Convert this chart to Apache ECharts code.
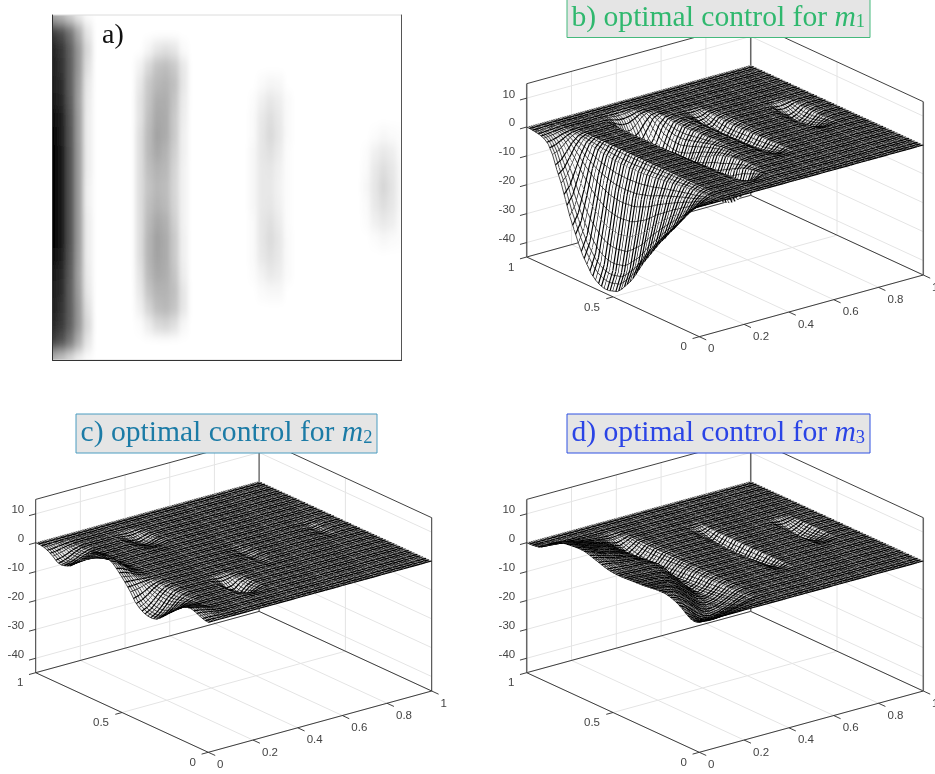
<!DOCTYPE html>
<html><head><meta charset="utf-8">
<script src="https://cdn.jsdelivr.net/npm/echarts@6/dist/echarts.min.js"></script>
<style>
html,body{margin:0;padding:0;background:#fff;}
#heat{position:absolute;left:53px;top:15px;width:348px;height:345px;overflow:hidden;}
#heatChart{position:absolute;left:-60px;top:-20px;width:428px;height:385px;filter:url(#soft);}
#main{position:absolute;left:0;top:0;width:935px;height:774px;}
</style></head><body>
<svg width="0" height="0" style="position:absolute"><filter id="soft" x="0" y="0" width="100%" height="100%"><feGaussianBlur stdDeviation="2.8 6"/></filter></svg>
<div id="heat"><div id="heatChart"></div></div>
<div id="main"></div>
<script>
const xTicks=[0,0.2,0.4,0.6,0.8,1];
const yTicks=[0,0.5,1];
const zTicks=[-40,-30,-20,-10,0,10];
const titleB=['b) optimal control for ','m','1'];
const titleC=['c) optimal control for ','m','2'];
const titleD=['d) optimal control for ','m','3'];

// Panel a: darkness 0-100. Rows y=1..0 in steps of .05, columns x in steps of .025.
const heatBand1=[[34,28,18,8,1],[78,70,54,32,10],[86,79,62,40,15],[88,81,63,40,12],[90,83,63,38,9],[93,85,64,37,8],[97,88,66,38,7],[99,90,67,38,7],[100,91,68,39,7],[100,91,68,39,7],[100,91,68,39,6],[100,91,68,39,6],[100,91,68,39,7],[100,91,68,39,7],[97,88,66,38,7],[92,85,64,37,8],[90,83,63,38,9],[88,81,63,40,12],[85,78,62,40,15],[76,68,52,31,10],[30,24,15,6,1]];
const heatBand2=[[0,4,10,12,10,2],[5,15,24,26,21,9],[9,21,28,30,25,10],[11,23,32,32,23,8],[11,25,34,33,21,7],[13,27,36,33,21,6],[13,27,34,30,19,6],[13,25,30,28,17,5],[13,23,28,26,16,5],[13,25,30,27,17,5],[13,27,34,31,19,5],[13,29,37,33,21,6],[13,29,36,33,21,6],[11,27,34,32,23,7],[9,23,30,30,25,10],[6,17,26,28,23,10],[1,7,14,16,12,3]];
const heatBand3=[[0,2,4,3,0],[1,6,10,7,2],[2,9,13,9,2],[2,10,15,10,2],[3,10,12,8,1],[3,9,10,6,1],[3,9,9,5,1],[3,9,10,6,1],[2,10,12,8,1],[2,10,14,10,2],[2,9,12,9,2],[1,5,9,7,2],[0,2,3,3,0]];
const heatBand4=[[0,1,3,2,1],[1,6,9,7,2],[2,9,13,10,3],[3,10,16,11,3],[2,9,13,10,3],[1,6,9,7,2],[0,1,3,2,1]];

// Surfaces: rows run downward in y by .025, columns upward in x by .025; elsewhere the surface is flat at 0.
const m1Band1=[[0,0,0,0,0],[-.1,-.1,0,0,0],[-.3,-.3,-.2,-.1,0],[-.6,-.5,-.3,-.2,0],[-1.2,-1,-.7,-.3,-.1],[-2.5,-2.2,-1.5,-.7,-.2],[-5.5,-4.7,-3.2,-1.5,-.4],[-10,-8.6,-5.8,-2.8,-.8],[-14,-12,-8.1,-3.9,-1.1],[-19,-16.3,-11,-5.3,-1.5],[-24,-20.6,-13.9,-6.7,-1.9],[-28,-24.1,-16.2,-7.8,-2.2],[-32,-27.5,-18.6,-9,-2.6],[-35.5,-30.5,-20.6,-9.9,-2.8],[-38,-32.7,-22,-10.6,-3],[-40.5,-34.8,-23.5,-11.3,-3.2],[-42,-36.1,-24.4,-11.8,-3.4],[-43,-37,-24.9,-12,-3.4],[-43.5,-37.4,-25.2,-12.2,-3.5],[-43.5,-37.4,-25.2,-12.2,-3.5],[-43,-37,-24.9,-12,-3.4],[-42.5,-36.6,-24.7,-11.9,-3.4],[-41,-35.3,-23.8,-11.5,-3.3],[-39,-33.5,-22.6,-10.9,-3.1],[-37,-31.8,-21.5,-10.4,-3],[-34.5,-29.7,-20,-9.7,-2.8],[-31.5,-27.1,-18.3,-8.8,-2.5],[-28.5,-24.5,-16.5,-8,-2.3],[-26,-22.4,-15.1,-7.3,-2.1],[-23.5,-20.2,-13.6,-6.6,-1.9],[-21,-18.1,-12.2,-5.9,-1.7],[-18.5,-15.9,-10.7,-5.2,-1.5],[-16.5,-14.2,-9.6,-4.6,-1.3],[-14,-12,-8.1,-3.9,-1.1],[-12,-10.3,-7,-3.4,-1],[-9.5,-8.2,-5.5,-2.7,-.8],[-7,-6,-4.1,-2,-.6],[-4.5,-3.9,-2.6,-1.3,-.4],[-2.5,-2.2,-1.5,-.7,-.2],[-1,-.9,-.6,-.3,-.1],[0,0,0,0,0]];
const m1Band2=[[0,0,-.3,-.5,-.5,-.3,0,0,0],[0,-.3,-1,-1.5,-1.5,-1,-.3,0,0],[0,-1,-3,-4.5,-4.5,-3,-1,0,0],[0,-1.5,-5,-7,-7.5,-6,-3,-.5,0],[0,-2,-6,-9,-10,-9,-5.5,-1.5,0],[0,-2,-6.5,-10,-11.5,-10.5,-7,-2.5,-.3],[0,-2,-7,-11,-13,-12,-8.5,-3.5,-.5],[0,-2,-7,-11.5,-13.5,-12.5,-9,-4,-.6],[0,-2,-7.5,-12,-14,-13,-9.5,-4.5,-.7],[0,-2,-7.5,-12.5,-14.5,-13.5,-10,-4.5,-.7],[0,-2,-7.5,-12.5,-14.5,-13.5,-10,-4.5,-.7],[0,-2,-7.5,-12.5,-14.5,-13.5,-9.5,-4,-.6],[0,-2,-7.5,-12,-14,-13,-9,-3.5,-.5],[0,-1.8,-7,-11.5,-13.5,-12,-8,-3,-.4],[0,-1.5,-6.5,-11,-13,-11,-7,-2.5,-.3],[0,-1.5,-6,-10.5,-12.5,-10,-6,-2,-.2],[0,-1.2,-6,-10.5,-12.5,-9.5,-5,-1.5,0],[0,-1,-6,-11,-12.5,-9,-4.5,-1,0],[0,-1,-6.5,-11.5,-12.5,-8.5,-3.5,-.7,0],[0,-1,-6.5,-12,-13,-8,-2.5,-.3,0],[0,-1,-7,-12.5,-13,-7.5,-2,-.2,0],[0,-.8,-7,-13,-13,-7,-1.5,0,0],[0,-.8,-7.5,-13.5,-13,-6,-1,0,0],[0,-.6,-7.5,-13.5,-12.5,-5,-.6,0,0],[0,-.5,-7.5,-13.5,-12,-4,-.4,0,0],[0,-.5,-7,-13,-11,-3,-.2,0,0],[0,-.5,-6.5,-12.5,-10,-2,0,0,0],[0,-.4,-6,-11.5,-8.5,-1.2,0,0,0],[0,-.3,-5,-10,-7,-.8,0,0,0],[0,-.2,-4,-8,-5,-.4,0,0,0],[0,-.1,-2.5,-5,-2.5,-.2,0,0,0],[0,0,-1,-2,-1,0,0,0,0],[0,0,-.3,-.5,-.3,0,0,0,0]];
const m1Band3=[[0,-.1,-.1,0],[-.2,-.8,-.7,-.1],[-.4,-1.5,-1.3,-.2],[-.6,-2.5,-2,-.4],[-.7,-3,-2.5,-.5],[-.8,-3.5,-3,-.6],[-.9,-3.8,-3.3,-.7],[-.9,-4,-3.5,-.8],[-.9,-4,-3.5,-.8],[-.9,-4,-3.5,-.7],[-.8,-3.8,-3.3,-.6],[-.8,-3.8,-3.2,-.5],[-.8,-3.8,-3.2,-.5],[-.8,-3.8,-3,-.4],[-.8,-3.8,-3,-.3],[-.8,-3.6,-2.8,-.3],[-.7,-3.4,-2.6,-.2],[-.6,-3,-2.2,-.2],[-.5,-2.5,-1.8,-.1],[-.4,-2,-1.4,-.1],[-.2,-1.3,-.9,0],[-.1,-.6,-.4,0],[0,-.1,-.1,0]];
const m1Band4=[[0,-.2,-.3,-.2,0],[-.1,-.8,-1,-.7,-.1],[-.2,-1.5,-2,-1.4,-.3],[-.3,-2,-2.8,-2,-.5],[-.4,-2.5,-3.3,-2.4,-.6],[-.4,-2.7,-3.6,-2.5,-.6],[-.4,-2.7,-3.6,-2.4,-.5],[-.4,-2.6,-3.4,-2,-.4],[-.3,-2.3,-3,-1.6,-.3],[-.2,-1.8,-2.3,-1.1,-.2],[-.1,-1.2,-1.5,-.7,-.1],[0,-.5,-.7,-.3,0],[0,-.1,-.1,0,0]];

const m2Band1=[[0,0,0,0,0],[0,0,0,0,0],[-.3,-.3,-.2,-.1,0],[-1,-.9,-.6,-.3,-.1],[-2,-1.7,-1.2,-.6,-.2],[-3.3,-2.8,-2,-1,-.3],[-3.6,-3.1,-2.2,-1.1,-.3],[-3.2,-2.7,-1.9,-1,-.3],[-2.5,-2.1,-1.5,-.8,-.2],[-1,-.9,-.6,-.3,-.1],[.5,.4,.3,.2,0],[2.3,2,1.4,.7,.2],[4,3.4,2.4,1.2,.3],[5.5,4.7,3.3,1.7,.4],[6.5,5.5,3.9,2,.5],[6.7,5.7,4,2,.5],[6.5,5.5,3.9,2,.5],[6,5.1,3.6,1.8,.5],[5,4.3,3,1.5,.4],[3.5,3,2.1,1,.3],[1.8,1.5,1.1,.5,.1],[0,0,0,0,0],[-2,-1.7,-1.2,-.6,-.2],[-4.5,-3.8,-2.7,-1.4,-.4],[-6,-5.1,-3.6,-1.8,-.5],[-7,-6,-4.2,-2.1,-.6],[-7.5,-6.4,-4.5,-2.3,-.6],[-7.6,-6.5,-4.6,-2.3,-.6],[-7.2,-6.1,-4.3,-2.2,-.6],[-6,-5.1,-3.6,-1.8,-.5],[-4.5,-3.8,-2.7,-1.4,-.4],[-3,-2.6,-1.8,-.9,-.2],[-1.5,-1.3,-.9,-.5,-.1],[0,0,0,0,0],[1,.9,.6,.3,.1],[1.8,1.5,1.1,.5,.1],[2,1.7,1.2,.6,.2],[1.5,1.3,.9,.5,.1],[.8,.7,.5,.2,.1],[.2,.2,.1,.1,0],[0,0,0,0,0]];
const m2Band2Upper=[[0,-.1,-.1,0,0],[-.1,-.3,-.4,-.2,0],[-.3,-.8,-1,-.5,-.1],[-.3,-1.2,-1.4,-.8,-.1],[-.3,-1.3,-1.6,-1,-.2],[-.3,-1.1,-1.4,-.9,-.1],[-.2,-.8,-1,-.6,-.1],[-.1,-.4,-.5,-.3,0],[0,-.1,-.1,-.1,0]];
const m2Band2Lower=[[0,-.1,-.1,0,0],[-.2,-.6,-.5,-.2,0],[-.6,-1.6,-1.4,-.5,0],[-.9,-2.6,-2.3,-.8,-.1],[-1,-3,-3,-1.2,-.1],[-.9,-2.8,-3,-1.3,-.1],[-.6,-2.2,-2.6,-1.1,-.1],[-.3,-1.3,-1.6,-.7,0],[-.1,-.5,-.7,-.3,0],[0,-.1,-.1,0,0]];
const m2Band3=[[0,-.1,0],[-.1,-.2,-.1],[-.1,-.5,-.2],[-.2,-.6,-.3],[-.2,-.7,-.3],[-.2,-.7,-.3],[-.1,-.6,-.2],[-.1,-.4,-.1],[-.1,-.3,-.1],[0,-.1,0]];
const m2Band4=[[0,-.1,0],[-.1,-.2,-.1],[-.1,-.4,-.1],[-.2,-.6,-.2],[-.2,-.6,-.2],[-.2,-.6,-.2],[-.1,-.4,-.1],[-.1,-.2,-.1],[0,-.1,0]];

const m3Band12=[[0,0,0,0,0,0,0,0,0,0,0,0,0,0],[0,0,0,0,0,0,0,0,0,0,0,0,0,0],[.2,.2,.1,0,0,0,0,0,0,0,0,0,0,0],[.5,.4,.3,.1,0,0,0,0,0,0,0,0,0,0],
[1.5,1.4,1.2,1,.8,.6,.4,.3,.1,0,-.1,-.1,0,0],[3,2.7,2.3,1.8,1.4,1.1,.8,.5,.2,0,-.2,-.3,-.2,0],[4,3.7,3.2,2.6,2.1,1.6,1.2,.8,.4,0,-.5,-.7,-.4,0],[5,4.6,4,3.3,2.6,2,1.5,1,.5,-.1,-1,-1.5,-.8,0],[5.5,5.1,4.4,3.6,3,2.4,1.8,1.2,.6,-.3,-1.5,-2.2,-1.2,-.1],[5.8,5.4,4.7,3.9,3.2,2.6,2,1.4,.7,-.4,-2,-2.8,-1.6,-.2],[6,5.6,4.8,4,3.4,2.8,2.2,1.6,.8,-.5,-2.5,-3.3,-2,-.2],[6.2,5.7,4.9,4.1,3.5,2.9,2.3,1.7,.9,-.5,-2.8,-3.7,-2.2,-.3],[6.3,5.8,5,4.2,3.5,2.9,2.4,1.8,1,-.4,-3,-4,-2.4,-.3],[6.3,5.8,5,4.2,3.5,3,2.5,1.9,1.1,-.3,-3,-4.2,-2.5,-.3],[6,5.5,4.8,4.1,3.5,3,2.6,2,1.2,-.2,-3.2,-4.3,-2.5,-.3],[5.5,5.1,4.5,3.9,3.4,3,2.6,2.1,1.3,-.1,-3.2,-4.3,-2.4,-.3],[5,4.7,4.2,3.7,3.3,3,2.7,2.2,1.5,0,-3.2,-4.2,-2.3,-.2],[4.5,4.3,3.9,3.5,3.2,3,2.8,2.4,1.7,.2,-3.2,-4,-2.1,-.2],[4,3.9,3.6,3.3,3.1,3,2.8,2.5,1.9,.3,-3.2,-3.9,-1.9,-.2],[3.6,3.5,3.3,3.2,3,3,2.9,2.7,2.1,.4,-3.2,-3.7,-1.7,-.1],[3.4,3.3,3.2,3.1,3,3,2.9,2.8,2.2,.4,-3,-3.6,-1.5,-.1],[3.3,3.3,3.2,3.1,3,3,2.9,2.6,1.8,-.1,-3.2,-3.5,-1.3,-.1],[3.3,3.3,3.2,3.1,3,3,2.8,2.4,1.4,-.8,-3.4,-3.4,-1.1,0],[3.4,3.4,3.3,3.1,3,2.9,2.7,2,.8,-1.4,-3.6,-3.3,-1,0],[3.5,3.4,3.3,3.2,3.1,2.9,2.5,1.6,.2,-2,-3.8,-3.2,-.9,0],[3.6,3.5,3.4,3.3,3.1,2.9,2.2,1.1,-.4,-2.5,-3.9,-3,-.9,0],[3.7,3.6,3.5,3.4,3.2,2.8,1.9,.6,-1,-3,-4,-2.9,-.8,0],[3.8,3.7,3.6,3.5,3.2,2.5,1.4,0,-1.8,-3.4,-3.9,-2.8,-.8,0],[4,3.9,3.8,3.6,3.1,2.2,.8,-.8,-2.5,-3.8,-3.8,-2.6,-.7,0],[4.2,4.1,3.9,3.5,2.8,1.6,0,-1.8,-3.2,-3.9,-3.6,-2.4,-.7,0],[4.4,4.3,4,3.4,2.3,.8,-1,-2.8,-3.9,-4,-3.4,-2.2,-.6,0],[4.5,4.3,3.8,2.9,1.5,-.2,-2,-3.4,-4.1,-3.9,-3.2,-2,-.6,0],[4.5,4.2,3.4,2.2,.6,-1.2,-3,-4,-4.2,-3.8,-2.9,-1.8,-.5,0],[4.2,3.7,2.6,1.2,-.6,-2.4,-3.8,-4.3,-4.1,-3.5,-2.6,-1.6,-.5,0],[3.7,3,1.6,0,-1.8,-3.5,-4.4,-4.5,-4,-3.2,-2.4,-1.3,-.4,0],[3,2,.2,-1.6,-3.2,-4.3,-4.6,-4.2,-3.5,-2.8,-2,-1.1,-.3,0],[2,.6,-1.2,-3,-4,-4.2,-3.9,-3.4,-2.8,-2.2,-1.5,-.8,-.2,0],[.8,-.6,-1.8,-2.6,-3,-3,-2.7,-2.3,-1.9,-1.4,-1,-.5,-.2,0],[-.2,-1.2,-2,-2.4,-2.4,-2.2,-1.8,-1.4,-1,-.7,-.4,-.2,-.1,0],[-.5,-.8,-1.1,-1.2,-1.2,-1,-.8,-.6,-.4,-.2,-.1,-.1,0,0],[0,0,0,0,0,0,0,0,0,0,0,0,0,0]];
const m3Band3=[[-.1,-.1,0],[-.4,-.5,0],[-.8,-1,-.1],[-1.2,-1.5,-.1],[-1.5,-2,-.2],[-1.7,-2.3,-.2],[-1.9,-2.5,-.2],[-2,-2.7,-.2],[-2,-2.8,-.2],[-2,-2.8,-.2],[-2,-2.7,-.2],[-2,-2.7,-.2],[-2,-2.6,-.2],[-2,-2.5,-.1],[-1.9,-2.4,-.1],[-1.8,-2.3,-.1],[-1.7,-2.1,-.1],[-1.5,-1.9,-.1],[-1.2,-1.6,0],[-1,-1.2,0],[-.7,-.8,0],[-.3,-.4,0],[-.1,-.1,0]];
const m3Band4=[[-.1,-.2,-.1],[-.5,-.7,-.4],[-1,-1.4,-.8],[-1.4,-2,-1.1],[-1.7,-2.4,-1.4],[-1.8,-2.6,-1.5],[-1.8,-2.6,-1.5],[-1.7,-2.4,-1.3],[-1.4,-2,-1.1],[-1,-1.5,-.8],[-.6,-1,-.5],[-.3,-.5,-.2],[-.1,-.1,0]];

const NX=40,NY=40,ZMIN=-45,ZMAX=15;
function surface(patches){
  const Z=[];for(let j=0;j<=NY;j++){Z.push(new Array(NX+1).fill(0));}
  patches.forEach(([rows,col,top])=>rows.forEach((r,k)=>r.forEach((v,c)=>{Z[top-k][col+c]=v;})));
  return Z;
}
const Z1=surface([[m1Band1,0,40],[m1Band2,10,36],[m1Band3,21,31],[m1Band4,32,26]]);
const Z2=surface([[m2Band1,0,40],[m2Band2Upper,11,36],[m2Band2Lower,11,14],[m2Band3,20,22],[m2Band4,34,24]]);
const Z3=surface([[m3Band12,0,40],[m3Band3,22,31],[m3Band4,33,26]]);

const geom=(ox,oy,ex,ey,h)=>(x,y,z)=>[ox+x*ex[0]+y*ey[0],oy+x*ex[1]+y*ey[1]-(z-ZMIN)/(ZMAX-ZMIN)*h];
const pB=geom(699.3,336.7,[224,-61.7],[-172.6,-79.7],173.3);
const pC=geom(208.3,752.3,[223.4,-61.3],[-172.6,-79.6],173.3);
const pD=geom(699.3,752.3,[224,-61.3],[-172.6,-79.6],173.3);

// Line texture for a cell: the reference mesh is finer than the value grid, so each cell carries
// hatch lines at the reference's spacing. They are drawing strokes across one cell, not extra data.
const ROW_STEP=2/3, COL_STEP=0.4;
echarts.graphic.registerShape('meshHatch',echarts.graphic.extendShape({
  shape:{a:null,b:null,c:null,d:null,ts:null},
  buildPath(ctx,s){
    const {a,b,c,d,ts}=s;
    if(!a)return;
    ts.forEach(t=>{
      ctx.moveTo(a[0]+(d[0]-a[0])*t,a[1]+(d[1]-a[1])*t);
      ctx.lineTo(b[0]+(c[0]-b[0])*t,b[1]+(c[1]-b[1])*t);
    });
  }
}));
function stepsIn(n,step){const out=[];for(let k=Math.ceil(n/step-1e-9);k*step<n+1-1e-9;k++)out.push(k*step-n);return out;}
function meshTone(A,B,C,D){
  const area=Math.abs((C[0]-A[0])*(D[1]-B[1])-(D[0]-B[0])*(C[1]-A[1]))/2;
  const k=Math.min(1,Math.pow(18/Math.max(area,1),1.6));
  const g=Math.round(255*(1-0.34*k));
  return `rgb(${g},${g},${g})`;
}
function surfaceSeries(Z,proj){
  const data=[];
  for(let j=NY-1;j>=0;j--)for(let i=NX-1;i>=0;i--)data.push([i,j]);
  return {type:'custom',coordinateSystem:'cartesian2d',xAxisIndex:0,yAxisIndex:0,silent:true,animation:false,progressive:0,z:3,
    data,
    renderItem(params,api){
      const i=api.value(0),j=api.value(1);
      const c=(a,b)=>api.coord(proj(a/NX,b/NY,Z[b][a]));
      const A=c(i,j),B=c(i+1,j),C=c(i+1,j+1),D=c(i,j+1);
      return {type:'group',children:[
        {type:'polygon',shape:{points:[A,B,C,D]},style:{fill:meshTone(A,B,C,D),stroke:null}},
        {type:'meshHatch',shape:{a:A,b:B,c:C,d:D,ts:stepsIn(j,ROW_STEP)},style:{fill:null,stroke:'#000',lineWidth:1.15}},
        {type:'meshHatch',shape:{a:B,b:C,c:D,d:A,ts:stepsIn(i,COL_STEP).map(u=>1-u)},style:{fill:null,stroke:'#000',lineWidth:0.7}}
      ]};
    }};
}
function frameSeries(proj,heavy){
  const segs=[];
  const add=(a,b,k)=>segs.push([a,b,k]);
  xTicks.forEach(t=>{add([t,0,ZMIN],[t,1,ZMIN],0);add([t,1,ZMIN],[t,1,ZMAX],0);});
  yTicks.forEach(t=>{add([0,t,ZMIN],[1,t,ZMIN],0);add([1,t,ZMIN],[1,t,ZMAX],0);});
  zTicks.forEach(t=>{add([0,1,t],[1,1,t],0);add([1,1,t],[1,0,t],0);});
  add([0,0,ZMIN],[1,0,ZMIN],1);add([0,0,ZMIN],[0,1,ZMIN],1);
  add([0,1,ZMIN],[1,1,ZMIN],1);add([1,1,ZMIN],[1,0,ZMIN],1);
  add([0,1,ZMAX],[1,1,ZMAX],1);add([1,1,ZMAX],[1,0,ZMAX],1);
  add([0,1,ZMIN],[0,1,ZMAX],heavy?2:1);add([1,0,ZMIN],[1,0,ZMAX],heavy?2:1);add([1,1,ZMIN],[1,1,ZMAX],heavy?2:1);
  xTicks.forEach(t=>add([t,0,ZMIN],[t,-0.04,ZMIN],1));
  yTicks.forEach(t=>add([0,t,ZMIN],[-0.03,t,ZMIN],1));
  zTicks.forEach(t=>add([0,1,t],[-0.03,1,t],1));
  const styles=[{stroke:'#e4e4e4',lineWidth:1},{stroke:'#2a2a2a',lineWidth:0.9},{stroke:'#666',lineWidth:1.5}];
  return {type:'custom',coordinateSystem:'cartesian2d',xAxisIndex:0,yAxisIndex:0,silent:true,animation:false,progressive:0,z:1,
    data:segs.map((s,i)=>[i]),
    renderItem(params,api){
      const s=segs[api.value(0)];
      const a=api.coord(proj(...s[0])),b=api.coord(proj(...s[1]));
      return {type:'line',shape:{x1:a[0],y1:a[1],x2:b[0],y2:b[1]},style:styles[s[2]]};
    }};
}
function labelSeries(proj){
  const items=[];
  const txt=v=>String(v);
  xTicks.forEach(t=>items.push([t,0,ZMIN,txt(t),(t===0||t===1)?12:17,12.5,'center']));
  yTicks.forEach(t=>items.push([0,t,ZMIN,txt(t),t===0.5?-21:-15.5,10.5,'center']));
  zTicks.forEach(t=>items.push([0,1,t,txt(t),-11.5,-3.7,'right']));
  return {type:'custom',coordinateSystem:'cartesian2d',xAxisIndex:0,yAxisIndex:0,silent:true,animation:false,z:2,
    data:items.map((s,i)=>[i]),
    renderItem(params,api){
      const s=items[api.value(0)];
      const a=api.coord(proj(s[0],s[1],s[2]));
      return {type:'text',style:{x:a[0]+s[4],y:a[1]+s[5],text:s[3],textAlign:s[6],textVerticalAlign:'middle',fontSize:11.5,fontFamily:'Liberation Sans',fill:'#444'}};
    }};
}
function boxedTitle(parts,left,top,color,border){
  const base={fontFamily:'Liberation Serif',fontWeight:'normal',color};
  return {text:`{t|${parts[0]}}{m|${parts[1]}}{s|${parts[2]}}`,left,top,backgroundColor:'#e5e5e5',borderColor:border,borderWidth:1,padding:[5,5,5,5],z:10,
    textStyle:{fontWeight:'normal',rich:{
      t:{...base,fontSize:29.6,lineHeight:28},
      m:{...base,fontStyle:'italic',fontSize:29.6,lineHeight:28},
      s:{...base,fontSize:18.5,lineHeight:18,padding:[9,0,0,0]}
    }}};
}

const chart=echarts.init(document.getElementById('main'),null,{renderer:'canvas',width:935,height:774});
chart.setOption({
  backgroundColor:'transparent',animation:false,
  title:[
    {text:'a)',left:102,top:22,padding:0,textStyle:{fontFamily:'Liberation Serif',fontWeight:'normal',fontSize:28,color:'#111'},z:10},
    boxedTitle(titleB,566.5,-1,'#2fb86e','#45b97c'),
    boxedTitle(titleC,75.5,414.5,'#1b7ba6','#4a9cc0'),
    boxedTitle(titleD,566.5,414.5,'#2a44e6','#2f50e2')
  ],
  grid:[
    {left:0,top:0,width:935,height:774,show:false},
    {left:52.5,top:15,width:349,height:345,show:true,borderColor:'#dcdcdc',borderWidth:1,backgroundColor:'transparent'}
  ],
  xAxis:[
    {type:'value',min:0,max:935,show:false,gridIndex:0},
    {type:'value',min:0,max:1,gridIndex:1,position:'bottom',axisLine:{show:true,onZero:false,lineStyle:{color:'#333',width:1}},axisTick:{show:false},axisLabel:{show:false},splitLine:{show:false}}
  ],
  yAxis:[
    {type:'value',min:0,max:774,inverse:true,show:false,gridIndex:0},
    {type:'value',min:0,max:1,gridIndex:1,position:'left',axisLine:{show:true,onZero:false,lineStyle:{color:'#333',width:1}},axisTick:{show:false},axisLabel:{show:false},splitLine:{show:false}},
    {type:'value',min:0,max:1,gridIndex:1,position:'right',axisLine:{show:true,onZero:false,lineStyle:{color:'#555',width:1}},axisTick:{show:false},axisLabel:{show:false},splitLine:{show:false}}
  ],
  series:[
    frameSeries(pB,true),labelSeries(pB),surfaceSeries(Z1,pB),
    frameSeries(pC,false),labelSeries(pC),surfaceSeries(Z2,pC),
    frameSeries(pD,true),labelSeries(pD),surfaceSeries(Z3,pD)
  ]
});

// Panel a heat image
const HEAT_PAD=4;
const heatData=[];
function addHeat(rows,col,top){rows.forEach((r,k)=>r.forEach((v,c)=>{
  if(v>0)heatData.push([col+c+HEAT_PAD,top+k,v]);
  if(col===0&&c===0)for(let p=0;p<HEAT_PAD;p++)heatData.push([p,top+k,v]);
}));}
addHeat(heatBand1,0,0);addHeat(heatBand2,10,2);addHeat(heatBand3,23,4);addHeat(heatBand4,36,7);
const hc=echarts.init(document.getElementById('heatChart'),null,{renderer:'canvas',width:428,height:385});
const cw=348/NX,ch=345/20;
hc.setOption({
  animation:false,backgroundColor:'#fff',
  grid:{left:60-(HEAT_PAD+0.5)*cw,top:20-0.5*ch,width:(NX+1+HEAT_PAD)*cw,height:21*ch},
  xAxis:{type:'category',show:false,data:Array.from({length:NX+1+HEAT_PAD},(_,i)=>i)},
  yAxis:{type:'category',show:false,inverse:true,data:Array.from({length:21},(_,i)=>i)},
  visualMap:{show:false,min:0,max:100,inRange:{color:['#ffffff','#000000']}},
  series:[{type:'heatmap',data:heatData,progressive:0,itemStyle:{borderWidth:0}}]
});
</script>
</body></html>
